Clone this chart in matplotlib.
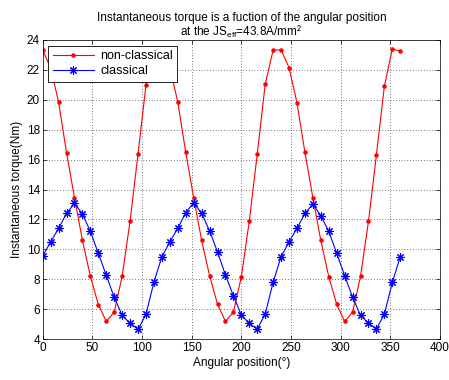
import matplotlib
matplotlib.use("Agg")
import matplotlib.pyplot as plt
import numpy as np

plt.rcParams['font.family'] = ['Liberation Sans', 'DejaVu Sans']
plt.rcParams['mathtext.fontset'] = 'custom'
plt.rcParams['mathtext.rm'] = 'Liberation Sans'
plt.rcParams['mathtext.it'] = 'Liberation Sans'

angle = list(range(0, 361, 8))

non_classical = [23.3, 22.15, 19.85, 16.45, 13.45, 10.6, 8.2, 6.3, 5.18, 5.8, 8.2, 11.9, 16.4, 21.0, 23.3,
                 23.3, 22.15, 19.85, 16.48, 13.45, 10.6, 8.24, 6.32, 5.18, 5.8, 8.17, 11.89, 16.37, 21.03, 23.33,
                 23.33, 22.15, 19.8, 16.48, 13.45, 10.6, 8.17, 6.32, 5.18, 5.79, 8.2, 11.87, 16.33, 20.92, 23.4,
                 23.26]
classical = [9.55, 10.5, 11.4, 12.4, 13.08, 12.36, 11.2, 9.73, 8.26, 6.79, 5.58, 5.05, 4.65, 5.65, 7.81,
             9.5, 10.5, 11.4, 12.45, 13.12, 12.4, 11.24, 9.82, 8.28, 6.88, 5.6, 5.05, 4.65, 5.67, 7.79,
             9.5, 10.5, 11.4, 12.4, 13.03, 12.25, 11.2, 9.73, 8.24, 6.79, 5.58, 5.05, 4.69, 5.65, 7.79,
             9.5]

xticks = list(range(0, 401, 50))
yticks = list(range(4, 25, 2))

title = "Instantaneous torque is a fuction of the angular position\nat the JS$_{\\mathrm{eff}}$=43.8A/mm²"
xlabel = "Angular position(°)"
ylabel = "Instantaneous torque(Nm)"

fig = plt.figure(figsize=(4.49, 3.80), dpi=100)
ax = fig.add_axes([42.7/449, 1 - 339/380, (440-42.7)/449, (339-40)/380])

fs = 8.5
ax.plot(angle, non_classical, color='red', lw=0.8, marker='.', ms=4.5, label='non-classical')
ax.plot(angle, classical, color='blue', lw=0.8, marker=(8, 2, 0), ms=6, mew=0.8, label='classical')

ax.set_xlim(0, 400)
ax.set_ylim(4, 24)
ax.set_xticks(xticks)
ax.set_yticks(yticks)
ax.tick_params(direction='in', top=True, right=True, labelsize=fs, length=3, width=0.5, pad=2)
ax.grid(True, color='black', linestyle=(0, (1, 3)), linewidth=0.5)
for s in ax.spines.values():
    s.set_linewidth(0.5)

ax.set_title(title, fontsize=fs, linespacing=0.95, pad=3)
ax.set_xlabel(xlabel, fontsize=fs, labelpad=2)
ax.set_ylabel(ylabel, fontsize=fs, labelpad=3)

leg = ax.legend(loc='upper left', fontsize=fs + 0.5, fancybox=False, edgecolor='black',
                framealpha=1, borderaxespad=0.45, handlelength=3.3, borderpad=0.35,
                labelspacing=0.25, handletextpad=0.5)
leg.get_frame().set_linewidth(0.6)

fig.savefig("out.png", dpi=100, facecolor='white')
